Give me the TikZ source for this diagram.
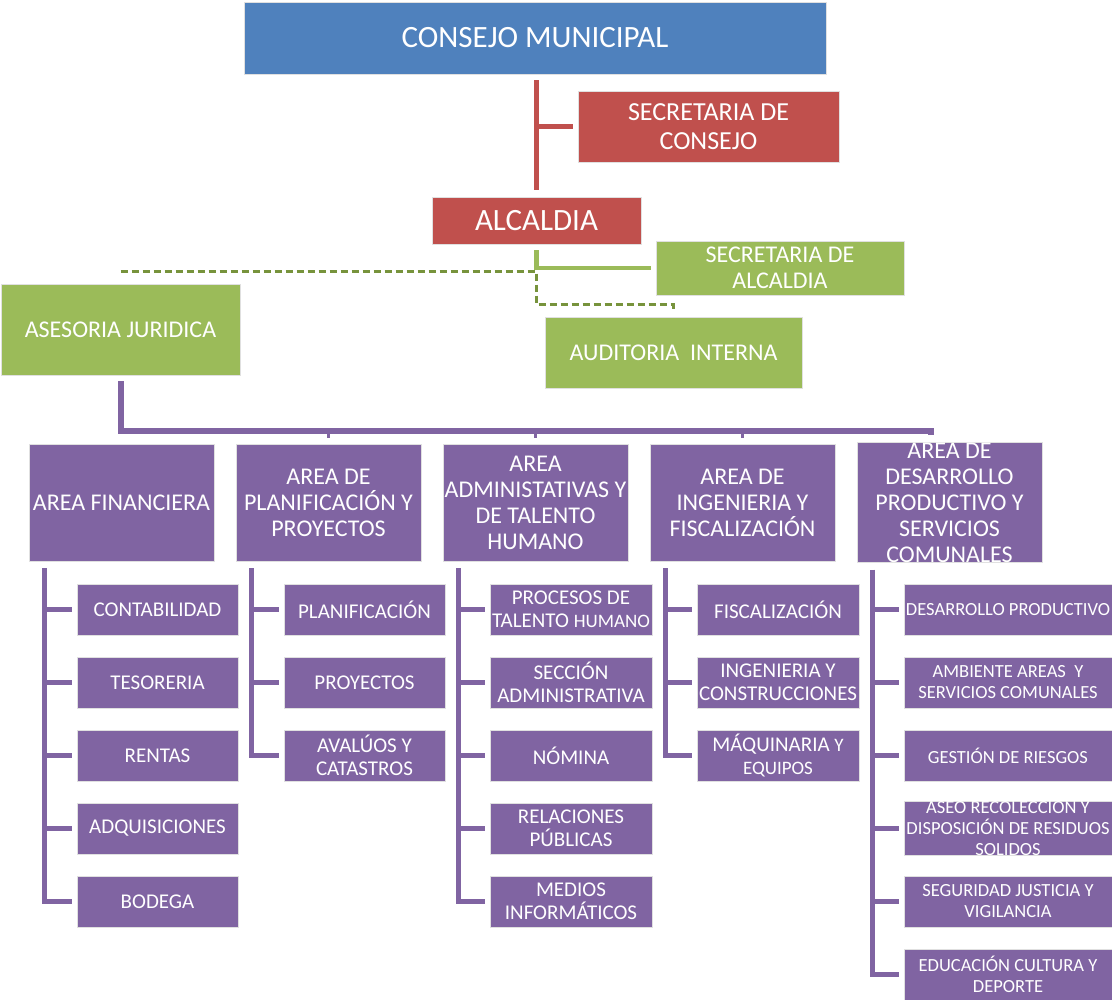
\documentclass[tikz,border=0pt]{standalone}
\usepackage{fontspec}
\setmainfont{Carlito}
\usetikzlibrary{calc}
\definecolor{cblue}{HTML}{4F81BD}
\definecolor{cred}{HTML}{C0504D}
\definecolor{cgreen}{HTML}{9BBB59}
\definecolor{cdgreen}{HTML}{77933C}
\definecolor{cpurple}{HTML}{8064A2}
\newcommand{\rbox}[7][]{\node[box, minimum width={#5-#3}, minimum height={#6-#4}, #1] (#2) at ({(#3+#5)/2},{-(#4+#6)/2}) {#7};}
\begin{document}
\begin{tikzpicture}[x=1pt,y=1pt,
  box/.style={draw=white!88!black, line width=0.8pt, text=white, align=center, inner sep=0pt},
  fblue/.style={fill=cblue},
  fred/.style={fill=cred},
  fgreen/.style={fill=cgreen},
  fpurple/.style={fill=cpurple},
  tA/.style={font=\fontsize{31}{36}\selectfont},
  tB/.style={font=\fontsize{26}{29}\selectfont},
  tC/.style={font=\fontsize{24}{26}\selectfont},
  tD/.style={font=\fontsize{21}{23.5}\selectfont},
  tE/.style={font=\fontsize{18.5}{21}\selectfont},
  redc/.style={draw=cred, line width=5pt},
  greenc/.style={draw=cgreen, line width=4.5pt},
  dashc/.style={draw=cdgreen, line width=2.2pt, dash pattern=on 7pt off 4pt},
  purc/.style={draw=cpurple, line width=5pt},
  busc/.style={draw=cpurple, line width=6pt},
]
\useasboundingbox (0,0) rectangle (1112,-1000);
% top
\rbox[fblue,tA]{cm}{244}{2}{826}{74}{CONSEJO MUNICIPAL}
\rbox[fred,tB]{sc}{578}{91}{839}{162}{SECRETARIA DE\\CONSEJO}
\rbox[fred,tA]{alc}{432}{197}{641}{244}{ALCALDIA}
\rbox[fgreen,tC]{sa}{656}{241}{904}{295}{SECRETARIA DE\\ALCALDIA}
\rbox[fgreen,tC]{aj}{1}{284}{240}{375}{ASESORIA JURIDICA}
\rbox[fgreen,tC]{ai}{545}{317}{802}{388}{AUDITORIA\ \ INTERNA}
% level 2
\rbox[fpurple,tC]{a1}{29}{444}{214}{561}{AREA FINANCIERA}
\rbox[fpurple,tC]{a2}{236}{444}{421}{561}{AREA DE\\PLANIFICACIÓN Y\\PROYECTOS}
\rbox[fpurple,tC]{a3}{443}{444}{628}{561}{AREA\\ADMINISTATIVAS Y\\DE TALENTO\\HUMANO}
\rbox[fpurple,tC]{a4}{650}{444}{835}{561}{AREA DE\\INGENIERIA Y\\FISCALIZACIÓN}
\rbox[fpurple,tC]{a5}{857}{444}{1042}{561}{AREA DE\\DESARROLLO\\PRODUCTIVO Y\\SERVICIOS\\COMUNALES}
% column 1
\rbox[fpurple,tD]{f1}{77}{584}{238}{635}{CONTABILIDAD}
\rbox[fpurple,tD]{f2}{77}{657}{238}{708}{TESORERIA}
\rbox[fpurple,tD]{f3}{77}{730}{238}{781}{RENTAS}
\rbox[fpurple,tD]{f4}{77}{803}{238}{854}{ADQUISICIONES}
\rbox[fpurple,tD]{f5}{77}{876}{238}{927}{BODEGA}
% column 2
\rbox[fpurple,tD]{p1}{284}{584}{445}{635}{PLANIFICACIÓN}
\rbox[fpurple,tD]{p2}{284}{657}{445}{708}{PROYECTOS}
\rbox[fpurple,tD]{p3}{284}{730}{445}{781}{AVALÚOS Y\\CATASTROS}
% column 3
\rbox[fpurple,tD]{h1}{490}{584}{652}{635}{PROCESOS DE\\TALENTO {\fontsize{19}{20}\selectfont HUMANO}}
\rbox[fpurple,tD]{h2}{490}{657}{652}{708}{SECCIÓN\\ADMINISTRATIVA}
\rbox[fpurple,tD]{h3}{490}{730}{652}{781}{NÓMINA}
\rbox[fpurple,tD]{h4}{490}{803}{652}{854}{RELACIONES\\PÚBLICAS}
\rbox[fpurple,tD]{h5}{490}{876}{652}{927}{MEDIOS\\INFORMÁTICOS}
% column 4
\rbox[fpurple,tD]{i1}{697}{584}{859}{635}{FISCALIZACIÓN}
\rbox[fpurple,tD]{i2}{697}{657}{859}{708}{INGENIERIA Y\\CONSTRUCCIONES}
\rbox[fpurple,tD]{i3}{697}{730}{859}{781}{MÁQUINARIA {\fontsize{19}{20}\selectfont Y}\\{\fontsize{19}{20}\selectfont EQUIPOS}}
% column 5
\rbox[fpurple,tE]{d1}{904}{584}{1112}{635}{DESARROLLO PRODUCTIVO}
\rbox[fpurple,tE]{d2}{904}{657}{1112}{708}{AMBIENTE AREAS\ \ Y\\SERVICIOS COMUNALES}
\rbox[fpurple,tE]{d3}{904}{730}{1112}{781}{GESTIÓN DE RIESGOS}
\rbox[fpurple,tE]{d4}{904}{803}{1112}{854}{ASEO RECOLECCION Y\\DISPOSICIÓN DE RESIDUOS\\SOLIDOS}
\rbox[fpurple,tE]{d5}{904}{876}{1112}{927}{SEGURIDAD JUSTICIA Y\\VIGILANCIA}
\rbox[fpurple,tE]{d6}{904}{949}{1112}{1000}{EDUCACIÓN CULTURA Y\\DEPORTE}
% connectors top
\draw[redc] ($(cm.south -| alc.north)+(0,-6)$) -- ($(alc.north)+(0,7)$);
\draw[redc] (alc.north |- sc.west) -- ($(sc.west)+(-5,0)$);
\draw[greenc] ($(alc.south)+(0,-6)$) |- ($(sa.west)+(-5,0)$);
\draw[dashc] ($(aj.north)+(0,12)$) coordinate (dj) -- (dj -| alc.south) |- ($(ai.north)+(0,12)$) -- ($(ai.north)+(0,5)$);
% bus
\draw[busc] ($(aj.south)+(0,-6)$) |- ($(a5.north)+(-19,11)$) -- ++(0,-4);
\foreach \n in {a2,a3,a4} \draw[cpurple, line width=3pt] ($(\n.north)+(0,11)$) -- ++(0,-5);
% spines
\foreach \a/\last/\others in {a1/f5/{f1,f2,f3,f4}, a2/p3/{p1,p2}, a3/h5/{h1,h2,h3,h4}, a4/i3/{i1,i2}, a5/d6/{d1,d2,d3,d4,d5}} {
  \coordinate (sp) at ($(\a.south west)+(16,-7)$);
  \draw[purc] (sp) |- ($(\last.west)+(-5,0)$);
  \foreach \s in \others \draw[purc] (sp |- \s.west) -- ($(\s.west)+(-5,0)$);
}
\end{tikzpicture}
\end{document}
